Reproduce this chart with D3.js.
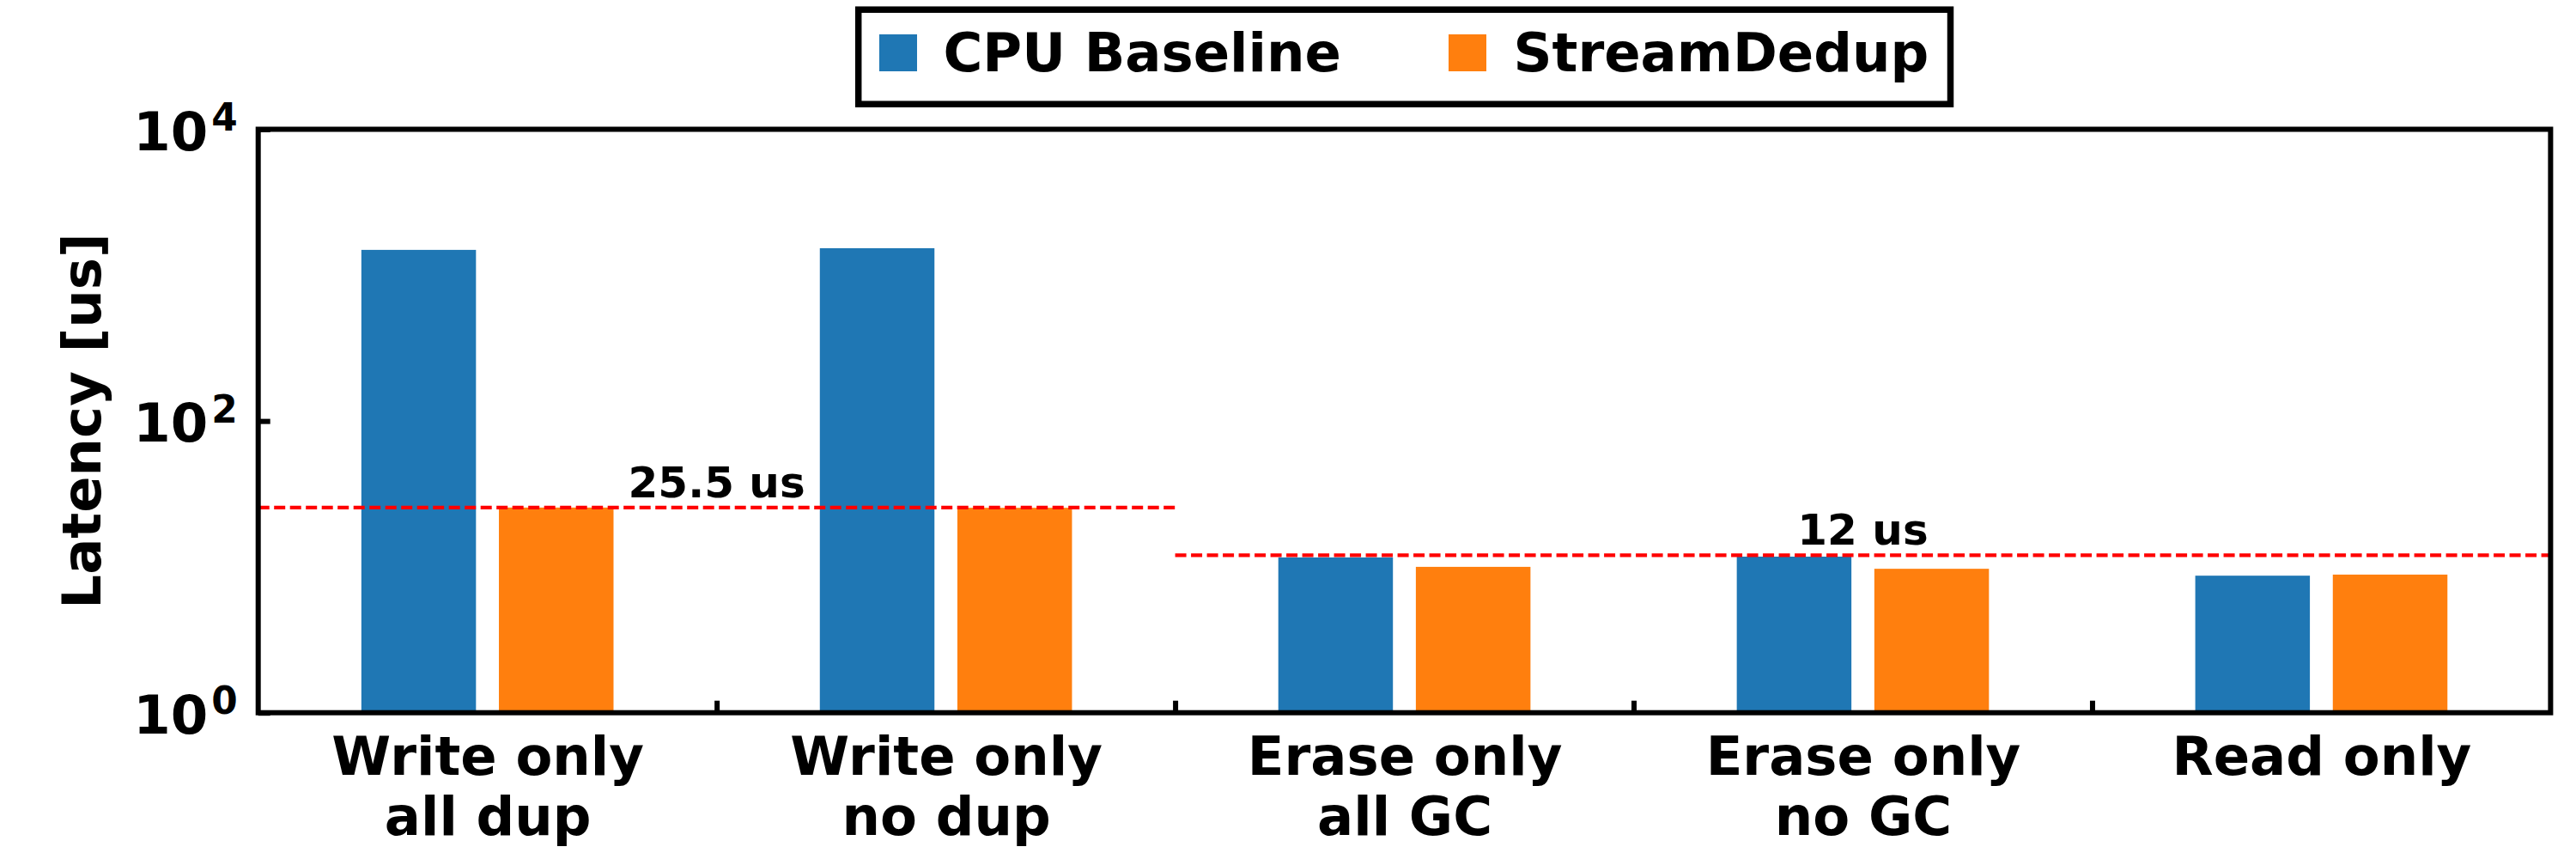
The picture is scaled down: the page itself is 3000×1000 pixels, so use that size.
<!DOCTYPE html>
<html><head><meta charset="utf-8">
<script src="https://cdn.jsdelivr.net/npm/d3@7"></script>
<style>
body{margin:0;background:#fff}
svg{display:block}
text{font-family:"DejaVu Sans";font-weight:bold;fill:#000}
</style>
</head><body>
<svg id="chart" width="3000" height="1000"></svg>
<script>
// ---- data ----
const categories = [["Write only","all dup"],["Write only","no dup"],["Erase only","all GC"],["Erase only","no GC"],["Read only"]];
const seriesNames = ["CPU Baseline","StreamDedup"];
const cpuBaseline = [1490, 1530, 11.6, 11.75, 8.7];
const streamDedup = [25.5, 25.4, 10.0, 9.7, 8.85];
const yTickValues = [1, 100, 10000];
const yTickExponents = ["0", "2", "4"];
const refValues = [25.5, 12];
const refLabels = ["25.5 us", "12 us"];
const refStartCat = [0, 2];
const refEndCat = [1, 4];

// ---- style / layout ----
const colors = ["#1f77b4", "#ff7f0e"];
const L = 300.7, R = 2970.4, T = 150.5, B = 829.7;
const barW = 0.25, barOff = 0.15;

const svg = d3.select("#chart");
const x = d3.scaleLinear().domain([-0.5, categories.length - 0.5]).range([L, R]);
const y = d3.scaleLog().domain([1, 10000]).range([B, T]);

const series = [cpuBaseline, streamDedup];

// bars
series.forEach((vals, s) => {
  svg.append("g").selectAll("rect").data(vals).join("rect")
    .attr("x", (d, i) => x(i + (s === 0 ? -barOff : barOff) - barW / 2))
    .attr("width", x(barW) - x(0))
    .attr("y", d => y(d))
    .attr("height", d => y(1) - y(d))
    .attr("fill", colors[s]);
});

// reference lines
const refG = svg.append("g");
refValues.forEach((v, k) => {
  const x0 = x(refStartCat[k] - 0.5), x1 = x(refEndCat[k] + 0.5);
  refG.append("line")
    .attr("x1", x0).attr("x2", x1)
    .attr("y1", y(v)).attr("y2", y(v))
    .attr("stroke", "#ff0000").attr("stroke-width", 4.3)
    .attr("stroke-dasharray", "13,5.5");
  refG.append("text")
    .attr("x", (x0 + x1) / 2).attr("y", y(v) - 12)
    .attr("text-anchor", "middle")
    .attr("font-size", 50)
    .text(refLabels[k]);
});

// x ticks (group boundaries, inward)
const xTickAxis = d3.axisBottom(x)
  .tickValues(d3.range(0.5, categories.length - 0.5, 1))
  .tickSize(-14).tickFormat("");
const gx = svg.append("g").attr("transform", `translate(0,${B})`).call(xTickAxis);
gx.select(".domain").remove();
gx.selectAll(".tick line").attr("stroke", "#000").attr("stroke-width", 6);

// x category labels
const xLabelAxis = d3.axisBottom(x)
  .tickValues(d3.range(0, categories.length))
  .tickSize(0).tickFormat("");
const gxl = svg.append("g").attr("transform", `translate(0,${B})`).call(xLabelAxis);
gxl.select(".domain").remove();
gxl.selectAll(".tick").each(function(d) {
  const t = d3.select(this).append("text")
    .attr("text-anchor", "middle").attr("font-size", 62.5);
  categories[d].forEach((line, j) => {
    t.append("tspan").attr("x", 0).attr("y", 72.6 + j * 69.4).text(line);
  });
});

// y axis ticks (inward) with power labels
const yAxis = d3.axisLeft(y).tickValues(yTickValues).tickSize(-14).tickFormat("");
const gy = svg.append("g").attr("transform", `translate(${L},0)`).call(yAxis);
gy.select(".domain").remove();
gy.selectAll(".tick line").attr("stroke", "#000").attr("stroke-width", 6);
gy.selectAll(".tick").each(function(d, i) {
  const t = d3.select(this).append("text")
    .attr("x", -24).attr("y", 23.5)
    .attr("text-anchor", "end").attr("font-size", 62.5);
  t.append("tspan").text("10");
  t.append("tspan").attr("dx", 4).attr("dy", -22.3).attr("font-size", 43.75).text(yTickExponents[i]);
});

// y axis title
svg.append("text")
  .attr("transform", `translate(116.7,${(T + B) / 2}) rotate(-90)`)
  .attr("text-anchor", "middle").attr("font-size", 62.5)
  .text("Latency [us]");

// frame
svg.append("rect")
  .attr("x", L).attr("y", T).attr("width", R - L).attr("height", B - T)
  .attr("fill", "none").attr("stroke", "#000").attr("stroke-width", 6);

// legend
const lg = svg.append("g");
lg.append("rect")
  .attr("x", 999.7).attr("y", 11.2).attr("width", 2271.5 - 999.7).attr("height", 110)
  .attr("fill", "#fff").attr("stroke", "#000").attr("stroke-width", 7.5);
const legendSwatchX = [1024, 1687];
const legendTextX = [1098.5, 1762.5];
seriesNames.forEach((name, s) => {
  lg.append("rect").attr("x", legendSwatchX[s]).attr("y", 40)
    .attr("width", 44).attr("height", 43).attr("fill", colors[s]);
  lg.append("text").attr("x", legendTextX[s]).attr("y", 82.7)
    .attr("font-size", 62.5).text(name);
});
</script>
</body></html>
